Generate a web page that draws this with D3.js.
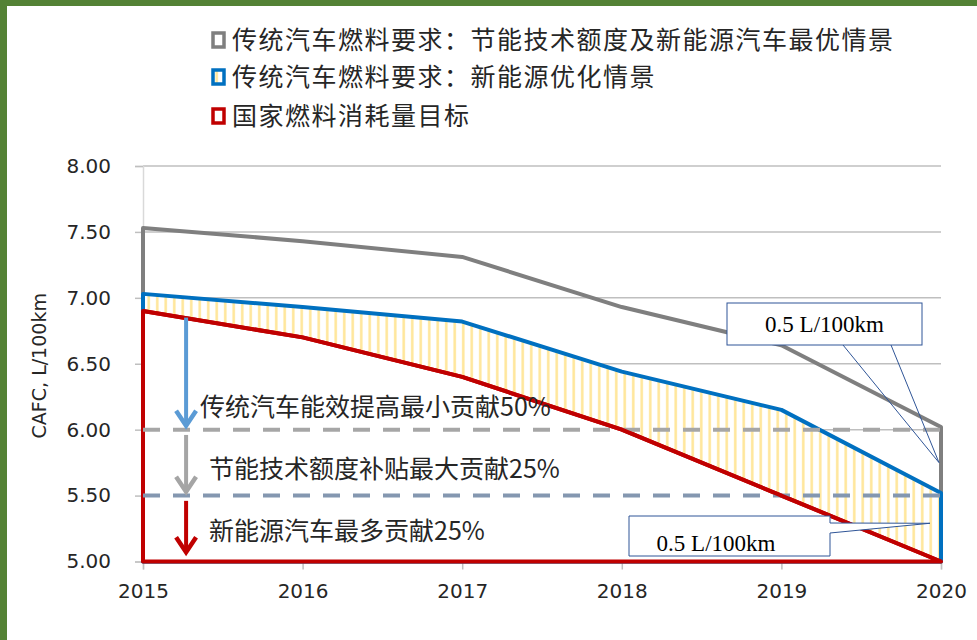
<!DOCTYPE html>
<html lang="zh">
<head>
  <meta charset="UTF-8">
  <title>CAFC</title>
  <style>
    * {
      margin: 0;
      padding: 0;
    }
    body {
      background: #fff;
    }
  </style>
</head>
<body>
  <script src="https://d3js.org/d3.v7.min.js"></script>
  <script>
    const years = [2015, 2016, 2017, 2018, 2019, 2020];
    const grayValues = [7.53, 7.43, 7.31, 6.93, 6.64, 6.02];
    const blueValues = [7.03, 6.93, 6.82, 6.44, 6.15, 5.52];
    const redValues = [6.90, 6.70, 6.40, 6.00, 5.50, 5.00];
    const yTicks = [5.0, 5.5, 6.0, 6.5, 7.0, 7.5, 8.0];
    const legendLabels = [
      '传统汽车燃料要求：节能技术额度及新能源汽车最优情景',
      '传统汽车燃料要求：新能源优化情景',
      '国家燃料消耗量目标',
    ];
    const targetLevels = [6.0, 5.5];
    const contribLabels = [
      '传统汽车能效提高最小贡献50%',
      '节能技术额度补贴最大贡献25%',
      '新能源汽车最多贡献25%',
    ];
    const calloutText = '0.5 L/100km';

    const width = 977;
    const height = 640;
    const cjk = '"Noto Sans CJK SC", sans-serif';
    const num = '"DejaVu Sans", sans-serif';

    const xScale = d3.scaleLinear().domain([2015, 2020]).range([143, 941]);
    const yScale = d3.scaleLinear().domain([5, 8]).range([561.5, 166]);

    const svg = d3.select('body')
      .append('svg')
      .attr('width', width)
      .attr('height', height);

    // green frame on left / top
    svg.append('rect').attr('x', 0).attr('y', 0).attr('width', 7).attr('height', height).attr('fill', '#548235');
    svg.append('rect').attr('x', 0).attr('y', 0).attr('width', width).attr('height', 6).attr('fill', '#548235');

    const defs = svg.append('defs');
    const pat = defs.append('pattern')
      .attr('id', 'stripes')
      .attr('patternUnits', 'userSpaceOnUse')
      .attr('width', 8.5)
      .attr('height', 10);
    pat.append('rect').attr('width', 8.5).attr('height', 10).attr('fill', '#fff');
    pat.append('rect').attr('x', 3).attr('width', 2.5).attr('height', 10).attr('fill', '#ffe699');

    // gridlines
    svg.append('g')
      .selectAll('line')
      .data(yTicks)
      .enter()
      .append('line')
      .attr('x1', xScale(2015))
      .attr('x2', xScale(2020))
      .attr('y1', d => yScale(d))
      .attr('y2', d => yScale(d))
      .attr('stroke', '#bfbfbf')
      .attr('stroke-width', 1.5);

    // axes
    const yAxis = d3.axisLeft(yScale)
      .tickValues(yTicks)
      .tickSize(8)
      .tickPadding(24)
      .tickFormat(d3.format('.2f'));
    const gy = svg.append('g')
      .attr('transform', `translate(${xScale(2015)},0)`)
      .call(yAxis);

    const xAxis = d3.axisBottom(xScale)
      .tickValues(years)
      .tickSize(8)
      .tickPadding(14)
      .tickFormat(d3.format('d'));
    const gx = svg.append('g')
      .attr('transform', `translate(0,${yScale(5)})`)
      .call(xAxis);

    [gx, gy].forEach(g => {
      g.selectAll('path').attr('stroke', '#d9d9d9').attr('stroke-width', 1.5);
      g.selectAll('line').attr('stroke', '#bfbfbf').attr('stroke-width', 1.5);
      g.selectAll('text')
        .attr('fill', '#262626')
        .attr('font-family', num)
        .attr('font-size', 20);
    });

    svg.append('text')
      .attr('transform', `translate(46,${yScale(6.5) + 2}) rotate(-90)`)
      .attr('text-anchor', 'middle')
      .attr('font-family', num)
      .attr('font-size', 19)
      .attr('fill', '#262626')
      .text('CAFC, L/100km');

    // areas
    const area = vals => d3.area()
      .x((d, i) => xScale(years[i]))
      .y0(yScale(5))
      .y1(d => yScale(d))(vals);

    svg.append('path')
      .attr('d', area(grayValues))
      .attr('fill', 'none')
      .attr('stroke', '#7f7f7f')
      .attr('stroke-width', 4)
      .attr('stroke-linejoin', 'round');

    svg.append('path')
      .attr('d', area(blueValues))
      .attr('fill', 'url(#stripes)')
      .attr('stroke', '#0070c0')
      .attr('stroke-width', 4)
      .attr('stroke-linejoin', 'round');

    svg.append('path')
      .attr('d', area(redValues))
      .attr('fill', '#fff')
      .attr('stroke', '#c00000')
      .attr('stroke-width', 4)
      .attr('stroke-linejoin', 'round');

    // target dashed lines
    svg.append('g')
      .selectAll('line')
      .data(targetLevels)
      .enter()
      .append('line')
      .attr('x1', xScale(2015))
      .attr('x2', xScale(2020))
      .attr('y1', d => yScale(d))
      .attr('y2', d => yScale(d))
      .attr('stroke', (d, i) => i === 0 ? '#a6a6a6' : '#8497b0')
      .attr('stroke-width', 4)
      .attr('stroke-dasharray', '17,13');

    // red line on top again
    const line = d3.line()
      .x((d, i) => xScale(years[i]))
      .y(d => yScale(d));
    svg.append('path')
      .attr('d', line(redValues))
      .attr('fill', 'none')
      .attr('stroke', '#c00000')
      .attr('stroke-width', 4)
      .attr('stroke-linejoin', 'round');

    // contribution arrows
    const arrows = [
      { from: 6.85, to: 6.03, color: '#5b9bd5' },
      { from: 5.96, to: 5.53, color: '#a5a5a5' },
      { from: 5.46, to: 5.07, color: '#c00000' },
    ];
    const ax = xScale(2015.27);
    arrows.forEach(a => {
      const y1 = yScale(a.from);
      const y2 = yScale(a.to);
      svg.append('line')
        .attr('x1', ax).attr('x2', ax)
        .attr('y1', y1).attr('y2', y2 - 2)
        .attr('stroke', a.color)
        .attr('stroke-width', 4);
      svg.append('path')
        .attr('d', `M${ax - 10},${y2 - 15}L${ax},${y2}L${ax + 10},${y2 - 15}`)
        .attr('fill', 'none')
        .attr('stroke', a.color)
        .attr('stroke-width', 4.5)
        .attr('stroke-linejoin', 'miter');
    });

    const labelPos = [
      { x: 200, v: 6.17 },
      { x: 209, v: 5.70 },
      { x: 209, v: 5.23 },
    ];
    svg.append('g')
      .selectAll('text')
      .data(contribLabels)
      .enter()
      .append('text')
      .attr('x', (d, i) => labelPos[i].x)
      .attr('y', (d, i) => yScale(labelPos[i].v))
      .attr('dy', '0.35em')
      .attr('font-family', cjk)
      .attr('font-size', 25)
      .attr('fill', '#262626')
      .text(d => d);

    // callouts
    const serif = '"Liberation Serif", "DejaVu Serif", serif';
    const tip1 = [xScale(2020) - 2, yScale(5.75)];
    const box1 = { x: 727, y: 303, w: 195, h: 42 };
    svg.append('rect')
      .attr('x', box1.x).attr('y', box1.y).attr('width', box1.w).attr('height', box1.h)
      .attr('fill', '#fff').attr('stroke', '#2f5597').attr('stroke-width', 1);
    [843, 891].forEach(lx => {
      svg.append('line')
        .attr('x1', lx).attr('y1', box1.y + box1.h)
        .attr('x2', tip1[0]).attr('y2', tip1[1])
        .attr('stroke', '#2f5597').attr('stroke-width', 1);
    });
    svg.append('text')
      .attr('x', box1.x + box1.w / 2)
      .attr('y', box1.y + box1.h / 2)
      .attr('dy', '0.35em')
      .attr('text-anchor', 'middle')
      .attr('font-family', serif)
      .attr('font-size', 23)
      .attr('fill', '#000')
      .text(calloutText);

    const tip2 = [xScale(2020) - 11, yScale(5.29)];
    const box2 = { x: 629, y: 516, w: 201, h: 40 };
    svg.append('path')
      .attr('d', `M${box2.x},${box2.y}H${box2.x + box2.w}V${box2.y + 7}L${tip2[0]},${tip2[1]}L${box2.x + box2.w},${box2.y + 17}V${box2.y + box2.h}H${box2.x}Z`)
      .attr('fill', '#fff').attr('stroke', '#2f5597').attr('stroke-width', 1);
    svg.append('text')
      .attr('x', box2.x + 87)
      .attr('y', box2.y + 27)
      .attr('dy', '0.35em')
      .attr('text-anchor', 'middle')
      .attr('font-family', serif)
      .attr('font-size', 23)
      .attr('fill', '#000')
      .text(calloutText);

    // legend
    const legendColors = ['#7f7f7f', '#0070c0', '#c00000'];
    const legendY = [40, 77, 116];
    const lg = svg.append('g');
    legendLabels.forEach((t, i) => {
      lg.append('rect')
        .attr('x', 213).attr('y', legendY[i] - 7)
        .attr('width', 11).attr('height', 14)
        .attr('fill', i === 1 ? 'url(#stripes)' : '#fff')
        .attr('stroke', legendColors[i])
        .attr('stroke-width', 3.5);
      lg.append('text')
        .attr('x', 232)
        .attr('y', legendY[i])
        .attr('dy', '0.35em')
        .attr('font-family', cjk)
        .attr('font-size', 25)
        .attr('letter-spacing', 1.5)
        .attr('fill', '#262626')
        .text(t);
    });
  </script>
</body>
</html>
